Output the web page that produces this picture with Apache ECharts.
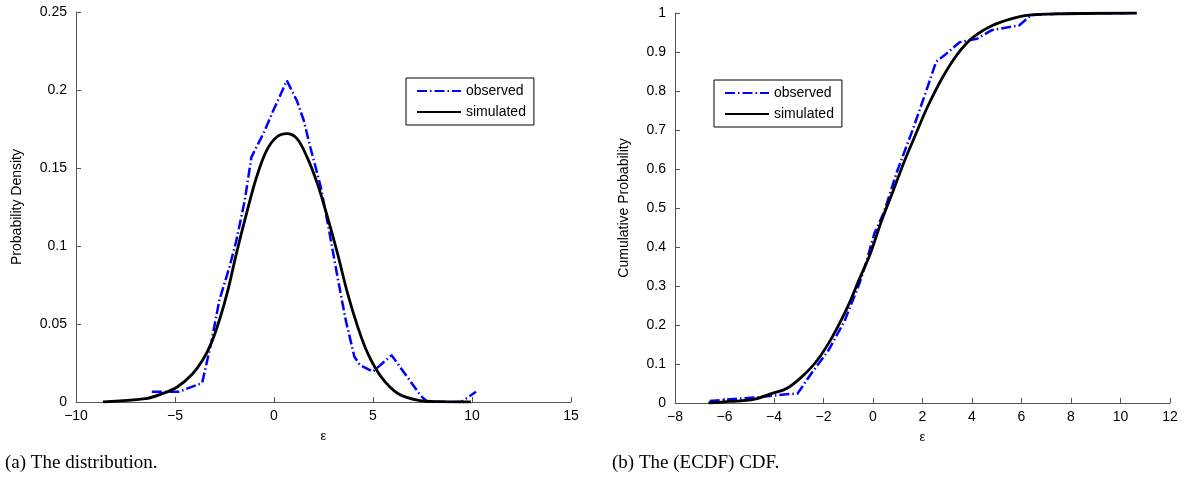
<!DOCTYPE html>
<html>
<head>
<meta charset="utf-8">
<script src="https://cdn.jsdelivr.net/npm/echarts@6/dist/echarts.min.js"></script>
<style>
  html, body { margin: 0; padding: 0; background: #fff; }
  #chart { width: 1197px; height: 478px; }
</style>
</head>
<body>
<div id="chart"></div>
<script>
// (a) density - observed (dash-dot blue)
const densObsX = [-6.17, -4.8, -3.63, -3.18, -2.76, -2.25, -1.9, -1.48, -1.14, -0.54, -0.03, 0.65, 1.16, 1.5, 1.84, 2.36, 2.78, 3.21, 3.63, 4.06, 4.34, 5.0, 5.94, 6.62, 7.4, 7.75, 9.45, 10.2];
const densObsY = [0.0065, 0.0066, 0.0122, 0.0374, 0.0652, 0.0865, 0.1036, 0.129, 0.157, 0.172, 0.187, 0.206, 0.193, 0.1806, 0.163, 0.138, 0.11, 0.08, 0.052, 0.029, 0.0237, 0.0195, 0.03, 0.018, 0.0042, 0, 0, 0.0066];
// (a) density - simulated (solid black)
const densSimX = [-8.64, -6.51, -5.65, -4.89, -4.12, -3.61, -3.18, -2.76, -2.33, -1.9, -1.39, -0.88, -0.37, 0.14, 0.65, 1.16, 1.67, 2.19, 2.7, 3.21, 3.72, 4.23, 4.74, 5.42, 6.28, 7.3, 8.49, 9.94];
const densSimY = [0, 0.0021, 0.0053, 0.0096, 0.018, 0.0267, 0.0374, 0.0524, 0.0716, 0.0951, 0.1207, 0.1442, 0.1613, 0.1699, 0.172, 0.1688, 0.157, 0.14, 0.1186, 0.0951, 0.0694, 0.0481, 0.031, 0.016, 0.0053, 0.0011, 0.0002, 0];
// (b) CDF - observed (ECDF)
const cdfObsX = [-6.6, -5.9, -4.6, -3.6, -3.05, -2.5, -1.8, -1.15, -0.55, -0.25, 0.05, 0.45, 0.95, 1.6, 2.15, 2.55, 2.95, 3.5, 4.2, 4.8, 5.9, 6.4, 7.5, 10.6];
const cdfObsY = [0.005, 0.009, 0.015, 0.022, 0.024, 0.075, 0.135, 0.21, 0.306, 0.366, 0.434, 0.49, 0.59, 0.7, 0.8, 0.875, 0.895, 0.925, 0.934, 0.956, 0.968, 0.995, 0.998, 1.0];
// (b) CDF - simulated
const cdfSimX = [-6.65, -5.8, -4.88, -4.11, -3.49, -2.88, -2.26, -1.65, -1.03, -0.57, -0.11, 0.35, 0.82, 1.28, 1.74, 2.2, 2.82, 3.43, 4.05, 4.82, 5.58, 6.2, 7.43, 10.66];
const cdfSimY = [0, 0.004, 0.0085, 0.024, 0.037, 0.067, 0.109, 0.169, 0.246, 0.315, 0.383, 0.468, 0.545, 0.622, 0.691, 0.759, 0.836, 0.896, 0.938, 0.968, 0.985, 0.994, 0.998, 1.0];

const seriesNames = ['observed', 'simulated'];
const captions = ['(a) The distribution.', '(b) The (ECDF) CDF.'];

const pairs = (xs, ys) => xs.map((x, i) => [x, ys[i]]);

const font = "'Liberation Sans', Arial, sans-serif";
const axisCol = '#555';
const minus = v => String(v).replace('-', '\u2212');

const xAxisBase = (grid, min, max, interval) => ({
    type: 'value',
    gridIndex: grid,
    min: min,
    max: max,
    interval: interval,
    name: 'ε',
    nameLocation: 'middle',
    nameGap: 28,
    nameTextStyle: { color: '#000', fontSize: 13, fontFamily: font },
    axisLine: { show: true, onZero: false, lineStyle: { color: axisCol, width: 1 } },
    axisTick: { show: true, inside: true, length: 5, lineStyle: { color: axisCol } },
    axisLabel: { color: '#000', fontSize: 14, fontFamily: font, margin: 7, formatter: minus },
    splitLine: { show: false }
});

const yAxisBase = (grid, max, interval, name, gap) => ({
    type: 'value',
    gridIndex: grid,
    min: 0,
    max: max,
    interval: interval,
    name: name,
    nameLocation: 'middle',
    nameGap: gap,
    nameTextStyle: { color: '#000', fontSize: 14, fontFamily: font },
    axisLine: { show: true, onZero: false, lineStyle: { color: axisCol, width: 1 } },
    axisTick: { show: true, inside: true, length: 5, lineStyle: { color: axisCol } },
    axisLabel: { color: '#000', fontSize: 14, fontFamily: font, margin: 9 },
    splitLine: { show: false }
});

const obsStyle = { color: '#0000ff', width: 2.5, type: [10, 3, 1.5, 3] };
const simStyle = { color: '#000000', width: 2.8, type: 'solid' };

const legendBase = (left, top) => ({
    orient: 'vertical',
    left: left,
    top: top,
    data: seriesNames,
    itemWidth: 44,
    itemHeight: 14,
    itemGap: 7,
    padding: [6, 8, 6, 10],
    borderColor: '#000',
    borderWidth: 1,
    backgroundColor: '#fff',
    itemStyle: { opacity: 0 },
    textStyle: { color: '#000', fontSize: 14, fontFamily: font },
    selectedMode: false
});

const chart = echarts.init(document.getElementById('chart'), null, { renderer: 'canvas' });
chart.setOption({
    animation: false,
    backgroundColor: '#fff',
    grid: [
        { left: 76, top: 12, width: 495, height: 390 },
        { left: 675, top: 13, width: 495, height: 390 }
    ],
    xAxis: [
        xAxisBase(0, -10, 15, 5),
        xAxisBase(1, -8, 12, 2)
    ],
    yAxis: [
        yAxisBase(0, 0.25, 0.05, 'Probability Density', 52),
        yAxisBase(1, 1, 0.1, 'Cumulative Probability', 44)
    ],
    legend: [
        legendBase(406, 78),
        legendBase(714, 80)
    ],
    series: [
        { name: 'observed', type: 'line', xAxisIndex: 0, yAxisIndex: 0, data: pairs(densObsX, densObsY), symbol: 'none', lineStyle: obsStyle, itemStyle: { color: '#0000ff' }, z: 2 },
        { name: 'simulated', type: 'line', xAxisIndex: 0, yAxisIndex: 0, data: pairs(densSimX, densSimY), symbol: 'none', smooth: 0.35, lineStyle: simStyle, itemStyle: { color: '#000' }, z: 3 },
        { name: 'observed', type: 'line', xAxisIndex: 1, yAxisIndex: 1, data: pairs(cdfObsX, cdfObsY), symbol: 'none', lineStyle: obsStyle, itemStyle: { color: '#0000ff' }, z: 2 },
        { name: 'simulated', type: 'line', xAxisIndex: 1, yAxisIndex: 1, data: pairs(cdfSimX, cdfSimY), symbol: 'none', smooth: 0.35, lineStyle: simStyle, itemStyle: { color: '#000' }, z: 3 }
    ],
    graphic: [
        { type: 'text', left: 5, top: 454, style: { text: captions[0], fill: '#000', font: "19px 'Liberation Serif', serif" } },
        { type: 'text', left: 612, top: 454, style: { text: captions[1], fill: '#000', font: "19px 'Liberation Serif', serif" } }
    ]
});
</script>
</body>
</html>
